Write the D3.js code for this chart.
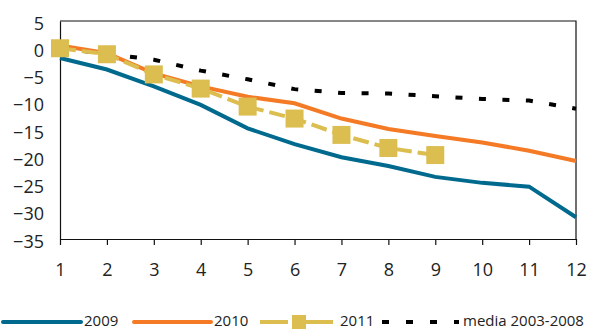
<!DOCTYPE html>
<html>
<head>
<meta charset="utf-8">
<script src="https://cdn.jsdelivr.net/npm/d3@7"></script>
<style>
  body { margin: 0; background: #fff; }
  text { font-family: "Open Sans", sans-serif; fill: #222; }
</style>
</head>
<body>
<script>
var months = [1, 2, 3, 4, 5, 6, 7, 8, 9, 10, 11, 12];
var yTicks = [5, 0, -5, -10, -15, -20, -25, -30, -35];

var s2009 = [-1.8, -3.9, -7.0, -10.4, -14.7, -17.6, -20.0, -21.6, -23.6, -24.7, -25.4, -31.0];
var s2010 = [0.5, -0.9, -4.6, -7.0, -8.9, -10.1, -12.9, -14.8, -16.1, -17.3, -18.8, -20.7];
var s2011 = [0.0, -1.1, -4.8, -7.4, -10.7, -12.9, -15.9, -18.3, -19.6];
var sMedia = [0.0, -1.0, -2.1, -4.1, -5.7, -7.5, -8.2, -8.3, -8.8, -9.3, -9.6, -11.1];

var legendLabels = ["2009", "2010", "2011", "media 2003-2008"];

var width = 595, height = 329;
var margin = { top: 21, right: 19, bottom: 90, left: 60 };

var svg = d3.select("body").append("svg")
    .attr("width", width)
    .attr("height", height);

var x = d3.scalePoint()
    .domain(months)
    .range([margin.left, width - margin.right]);

var y = d3.scaleLinear()
    .domain([-35, 5])
    .range([height - margin.bottom, margin.top]);

// frame top/right
svg.append("path")
    .attr("d", "M" + x.range()[0] + "," + y(5) + "H" + x.range()[1] + "V" + y(-35))
    .attr("fill", "none")
    .attr("stroke", "#111")
    .attr("stroke-width", 1.2);

// y axis
var yAxis = svg.append("g")
    .attr("transform", "translate(" + margin.left + ",0)")
    .call(d3.axisLeft(y).tickValues(yTicks).tickSize(0).tickPadding(16).tickFormat(d3.format("d")));
yAxis.select(".domain").attr("stroke", "#111").attr("stroke-width", 1.2);
yAxis.selectAll("text")
    .style("font-size", "18px")
    .style("font-family", "'Open Sans', sans-serif")
    .attr("fill", "#222")
    .attr("dy", "0.45em");

// x axis
var xAxis = svg.append("g")
    .attr("transform", "translate(0," + y(-35) + ")")
    .call(d3.axisBottom(x).tickSize(6).tickSizeOuter(0).tickPadding(18));
xAxis.select(".domain").attr("stroke", "#111").attr("stroke-width", 1.2);
xAxis.selectAll(".tick line").attr("stroke", "#111").attr("stroke-width", 1.2);
xAxis.selectAll("text")
    .style("font-size", "18px")
    .style("font-family", "'Open Sans', sans-serif")
    .attr("fill", "#222");

var line = d3.line()
    .x(function (d, i) { return x(months[i]); })
    .y(function (d) { return y(d); });

svg.append("path")
    .datum(sMedia)
    .attr("d", line)
    .attr("fill", "none")
    .attr("stroke", "#000")
    .attr("stroke-width", 4)
    .attr("stroke-dasharray", "7,16.5");

svg.append("path")
    .datum(s2009)
    .attr("d", line)
    .attr("fill", "none")
    .attr("stroke", "#006a8e")
    .attr("stroke-width", 4);

svg.append("path")
    .datum(s2010)
    .attr("d", line)
    .attr("fill", "none")
    .attr("stroke", "#f47a25")
    .attr("stroke-width", 4);

svg.append("path")
    .datum(s2011)
    .attr("d", line)
    .attr("fill", "none")
    .attr("stroke", "#dcbd50")
    .attr("stroke-width", 4)
    .attr("stroke-dasharray", "16,6");

svg.selectAll(".m2011")
    .data(s2011)
    .enter().append("rect")
    .attr("class", "m2011")
    .attr("x", function (d, i) { return x(months[i]) - 9; })
    .attr("y", function (d) { return y(d) - 9; })
    .attr("width", 18)
    .attr("height", 18)
    .attr("fill", "#dcbd50");

// legend
var ly = 322;
var leg = svg.append("g");

leg.append("line").attr("x1", 3).attr("x2", 81).attr("y1", ly).attr("y2", ly)
    .attr("stroke", "#006a8e").attr("stroke-width", 4).attr("stroke-linecap", "round");
leg.append("line").attr("x1", 134).attr("x2", 211).attr("y1", ly).attr("y2", ly)
    .attr("stroke", "#f47a25").attr("stroke-width", 4).attr("stroke-linecap", "round");
leg.append("line").attr("x1", 260).attr("x2", 288).attr("y1", ly).attr("y2", ly)
    .attr("stroke", "#dcbd50").attr("stroke-width", 4);
leg.append("line").attr("x1", 300).attr("x2", 333).attr("y1", ly).attr("y2", ly)
    .attr("stroke", "#dcbd50").attr("stroke-width", 4);
leg.append("rect").attr("x", 292).attr("y", ly - 7).attr("width", 14).attr("height", 14)
    .attr("fill", "#dcbd50");
leg.append("line").attr("x1", 382).attr("x2", 459).attr("y1", ly).attr("y2", ly)
    .attr("stroke", "#000").attr("stroke-width", 4).attr("stroke-dasharray", "7,17");

var legX = [84, 214, 340, 463];
leg.selectAll("text")
    .data(legendLabels)
    .enter().append("text")
    .attr("x", function (d, i) { return legX[i]; })
    .attr("y", ly + 3.5)
    .style("font-size", "15px")
    .text(function (d) { return d; });
</script>
</body>
</html>
